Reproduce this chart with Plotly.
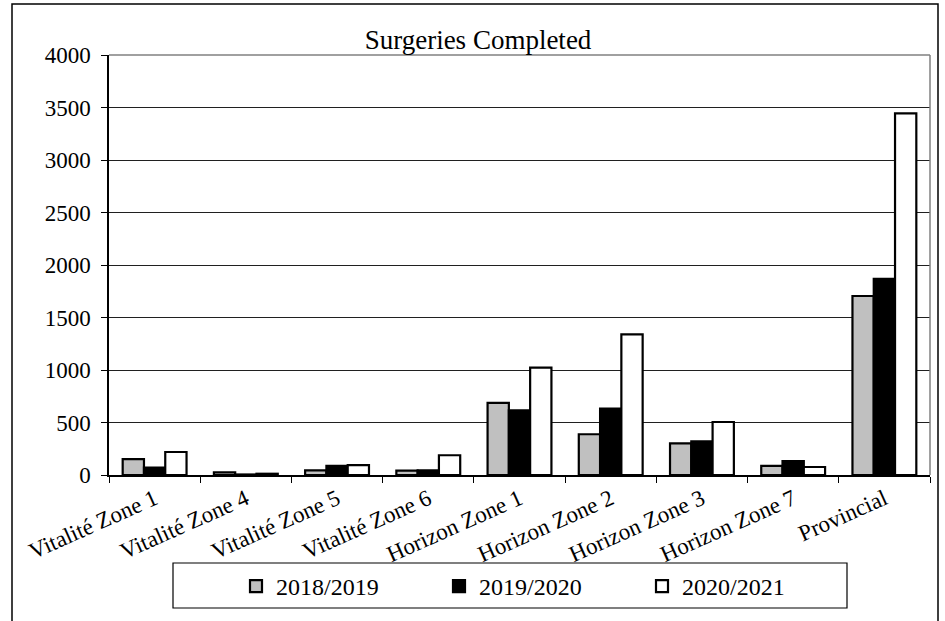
import plotly.graph_objects as go

categories = ["Vitalité Zone 1", "Vitalité Zone 4", "Vitalité Zone 5", "Vitalité Zone 6",
              "Horizon Zone 1", "Horizon Zone 2", "Horizon Zone 3", "Horizon Zone 7", "Provincial"]
series_names = ["2018/2019", "2019/2020", "2020/2021"]
values_2018 = [152, 25, 45, 41, 686, 388, 302, 86, 1705]
values_2019 = [70, 5, 86, 45, 616, 632, 321, 133, 1867]
values_2020 = [219, 12, 95, 188, 1022, 1340, 505, 76, 3445]
y_ticks = [0, 500, 1000, 1500, 2000, 2500, 3000, 3500, 4000]

colors = ["#c0c0c0", "#000000", "#ffffff"]
FONT = "Liberation Serif"

W, H = 945, 621
L, R, T, B = 109, 930, 55, 475

fig = go.Figure()
for name, vals, col in zip(series_names, [values_2018, values_2019, values_2020], colors):
    fig.add_trace(go.Bar(x=categories, y=vals, name=name,
                         marker=dict(color=col, line=dict(color="black", width=2.2))))

def px_x(p):
    return (p - L) / (R - L)

def px_y(p):
    return (B - p) / (B - T)

fig.update_layout(
    width=W, height=H,
    margin=dict(l=L, r=W - R, t=T, b=H - B),
    paper_bgcolor="white", plot_bgcolor="white",
    barmode="group", bargap=0.3, bargroupgap=0,
    font=dict(family=FONT, size=22, color="black"),
    title=dict(text="Surgeries Completed", xref="container", x=478 / W, xanchor="center",
               yref="container", y=1 - 40 / H, yanchor="middle",
               font=dict(family=FONT, size=27)),
    xaxis=dict(showline=True, linecolor="black", linewidth=1.5, ticks="outside",
               tickson="boundaries", ticklen=6, tickcolor="black", tickangle=-24,
               tickfont=dict(family=FONT, size=23), showgrid=False),
    yaxis=dict(range=[0, 4000], tickvals=y_ticks, showline=True, linecolor="black",
               linewidth=1.5, ticks="outside", ticklen=6, tickcolor="black",
               ticklabelstandoff=6,
               showgrid=True, gridcolor="#202020", gridwidth=1, zeroline=False,
               tickfont=dict(family=FONT, size=23)),
    legend=dict(orientation="h", x=px_x(236), xanchor="left", y=px_y(564), yanchor="top",
                borderwidth=0, bgcolor="rgba(0,0,0,0)",
                entrywidth=158, entrywidthmode="pixels",
                font=dict(family=FONT, size=24), traceorder="normal"),
    showlegend=True,
    shapes=[
        dict(type="rect", xref="paper", yref="paper", x0=px_x(12), x1=px_x(938),
             y0=px_y(660), y1=px_y(4), line=dict(color="black", width=1.5), layer="below"),
        dict(type="rect", xref="paper", yref="paper", x0=px_x(173), x1=px_x(847),
             y0=px_y(608), y1=px_y(563), line=dict(color="black", width=1.2),
             fillcolor="white", layer="below"),
        dict(type="line", xref="paper", yref="paper", x0=1, x1=1, y0=0, y1=1,
             line=dict(color="#808080", width=1.5)),
        dict(type="line", xref="paper", yref="paper", x0=0, x1=1, y0=1, y1=1,
             line=dict(color="#808080", width=1.5)),
    ],
)

fig.write_html("out.html", config={"displayModeBar": False},
               post_script="document.body.style.margin='0';")
